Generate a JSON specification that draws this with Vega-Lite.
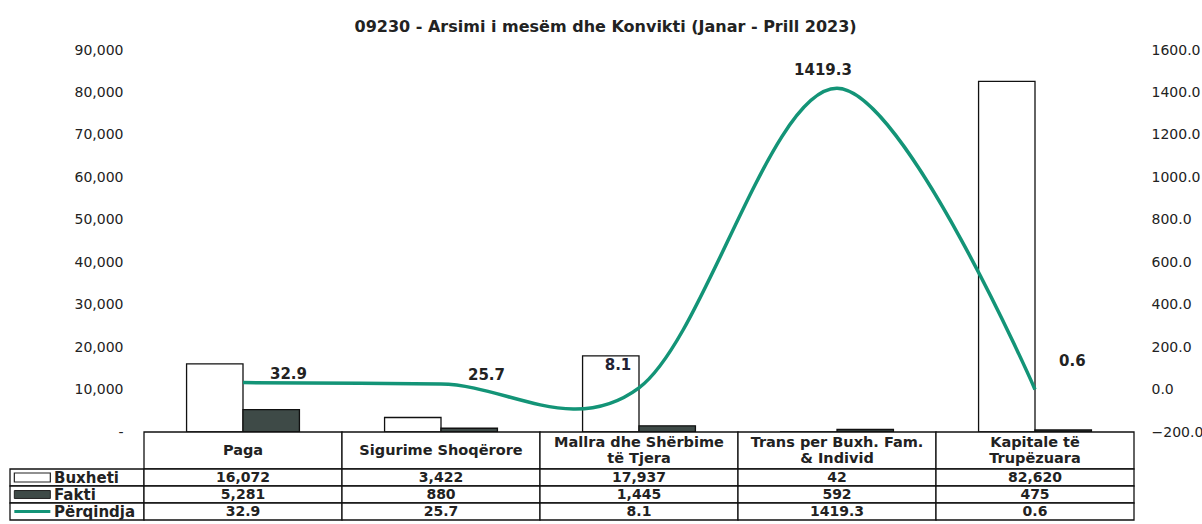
{
  "$schema": "https://vega.github.io/schema/vega-lite/v6.json",
  "background": "white",
  "padding": {"left": 8, "top": 19, "right": 0, "bottom": 0},
  "autosize": {"type": "pad"},
  "title": {"text": "09230  - Arsimi i mesëm dhe Konvikti (Janar - Prill 2023)", "font": "DejaVu Sans", "fontSize": 16, "fontWeight": "bold", "color": "#222", "anchor": "middle", "offset": 8},
  "bounds": "flush",
  "spacing": 0,
  "columns": 2,
  "datasets": {
    "main": [
      {"category": "Paga", "Buxheti": 16072, "Fakti": 5281, "Përqindja": 32.9},
      {"category": "Sigurime Shoqërore", "Buxheti": 3422, "Fakti": 880, "Përqindja": 25.7},
      {"category": "Mallra dhe Shërbime\ntë Tjera", "Buxheti": 17937, "Fakti": 1445, "Përqindja": 8.1},
      {"category": "Trans per Buxh. Fam.\n& Individ", "Buxheti": 42, "Fakti": 592, "Përqindja": 1419.3},
      {"category": "Kapitale të\nTrupëzuara", "Buxheti": 82620, "Fakti": 475, "Përqindja": 0.6}
    ],
    "legendrows": [
      {"series": "Buxheti"},
      {"series": "Fakti"},
      {"series": "Përqindja"}
    ]
  },
  "concat": [
    {"width": 134, "height": 382, "data": {"values": []}, "mark": {"type": "point", "opacity": 0}, "encoding": {}},
    {
      "width": 990,
      "height": 382,
      "data": {"name": "main"},
      "layer": [
        {
          "transform": [{"fold": ["Buxheti", "Fakti"], "as": ["series", "value"]}],
          "mark": {"type": "bar", "stroke": "#111", "strokeWidth": 1.3},
          "encoding": {
            "x": {"field": "category", "type": "nominal", "sort": null, "scale": {"paddingInner": 0.43, "paddingOuter": 0.215}, "axis": null},
            "xOffset": {"field": "series", "type": "nominal", "sort": ["Buxheti", "Fakti"]},
            "y": {"field": "value", "type": "quantitative", "scale": {"domain": [0, 90000], "nice": false},
              "axis": {"values": [0, 10000, 20000, 30000, 40000, 50000, 60000, 70000, 80000, 90000], "labelExpr": "datum.value === 0 ? '-' : format(datum.value, ',')", "title": null, "domain": false, "ticks": false, "grid": false, "labelPadding": 21, "labelFontSize": 14, "labelColor": "#222", "labelFont": "DejaVu Sans"}},
            "fill": {"field": "series", "type": "nominal", "scale": {"domain": ["Buxheti", "Fakti"], "range": ["white", "#3e4a47"]}, "legend": null}
          }
        },
        {
          "layer": [
            {
              "mark": {"type": "line", "interpolate": "cardinal", "color": "#139477", "strokeWidth": 3.5},
              "encoding": {
                "x": {"field": "category", "type": "nominal", "sort": null},
                "y": {"field": "Përqindja", "type": "quantitative", "scale": {"domain": [-200, 1600], "nice": false},
                  "axis": {"orient": "right", "values": [-200, 0, 200, 400, 600, 800, 1000, 1200, 1400, 1600], "format": ".1f", "title": null, "domain": false, "ticks": false, "grid": false, "labelPadding": 17, "labelFontSize": 14, "labelColor": "#222", "labelFont": "DejaVu Sans"}}
              }
            },
            {
              "transform": [{"filter": {"field": "category", "oneOf": ["Paga", "Sigurime Shoqërore"]}}],
              "mark": {"type": "text", "align": "left", "dx": 27, "dy": -9, "fontWeight": "bold", "fontSize": 15, "color": "#222"},
              "encoding": {
                "x": {"field": "category", "type": "nominal", "sort": null},
                "y": {"field": "Përqindja", "type": "quantitative"},
                "text": {"field": "Përqindja", "type": "quantitative", "format": ".1f"}
              }
            },
            {
              "transform": [{"filter": {"field": "category", "oneOf": ["Kapitale të\nTrupëzuara"]}}],
              "mark": {"type": "text", "align": "left", "dx": 24, "dy": -28, "fontWeight": "bold", "fontSize": 15, "color": "#222"},
              "encoding": {
                "x": {"field": "category", "type": "nominal", "sort": null},
                "y": {"field": "Përqindja", "type": "quantitative"},
                "text": {"field": "Përqindja", "type": "quantitative", "format": ".1f"}
              }
            },
            {
              "transform": [{"filter": {"field": "category", "oneOf": ["Mallra dhe Shërbime\ntë Tjera"]}}],
              "mark": {"type": "text", "align": "center", "dx": -21, "dy": -23, "fontWeight": "bold", "fontSize": 15, "color": "#223"},
              "encoding": {
                "x": {"field": "category", "type": "nominal", "sort": null},
                "y": {"field": "Përqindja", "type": "quantitative"},
                "text": {"field": "Përqindja", "type": "quantitative", "format": ".1f"}
              }
            },
            {
              "transform": [{"filter": {"field": "category", "oneOf": ["Trans per Buxh. Fam.\n& Individ"]}}],
              "mark": {"type": "text", "align": "center", "dx": -14, "dy": -18, "fontWeight": "bold", "fontSize": 15, "color": "#222"},
              "encoding": {
                "x": {"field": "category", "type": "nominal", "sort": null},
                "y": {"field": "Përqindja", "type": "quantitative"},
                "text": {"field": "Përqindja", "type": "quantitative", "format": ".1f"}
              }
            }
          ]
        }
      ],
      "resolve": {"scale": {"y": "independent"}}
    },
    {"width": 134, "height": 37, "data": {"values": []}, "mark": {"type": "point", "opacity": 0}, "encoding": {}},
    {
      "width": 990,
      "height": 37,
      "data": {"name": "main"},
      "layer": [
        {
          "mark": {"type": "rect", "fill": "white", "stroke": "#111", "strokeWidth": 1.3},
          "encoding": {"x": {"field": "category", "type": "nominal", "sort": null, "axis": null, "scale": {"paddingInner": 0, "paddingOuter": 0}}}
        },
        {
          "transform": [{"filter": "indexof(datum.category, '\\n') < 0"}],
          "mark": {"type": "text", "fontWeight": "bold", "fontSize": 14.5, "color": "#222"},
          "encoding": {"x": {"field": "category", "type": "nominal", "sort": null}, "text": {"field": "category"}}
        },
        {
          "transform": [{"filter": "indexof(datum.category, '\\n') >= 0"}],
          "mark": {"type": "text", "fontWeight": "bold", "fontSize": 14.5, "lineBreak": "\n", "lineHeight": 16, "dy": -8, "color": "#222"},
          "encoding": {"x": {"field": "category", "type": "nominal", "sort": null}, "text": {"field": "category"}}
        }
      ]
    },
    {
      "width": 134,
      "height": 51,
      "data": {"name": "legendrows"},
      "layer": [
        {
          "mark": {"type": "rect", "fill": "white", "stroke": "#111", "strokeWidth": 1.3},
          "encoding": {"y": {"field": "series", "type": "nominal", "sort": ["Buxheti", "Fakti", "Përqindja"], "axis": null, "scale": {"domain": ["Buxheti", "Fakti", "Përqindja"], "paddingInner": 0, "paddingOuter": 0}}}
        },
        {
          "transform": [{"filter": "datum.series === 'Buxheti'"}],
          "mark": {"type": "point", "shape": "M-1,-0.25H1V0.25H-1Z", "size": 1296, "filled": true, "fill": "white", "stroke": "#222", "strokeWidth": 1.2, "opacity": 1},
          "encoding": {
            "y": {"field": "series", "type": "nominal"},
            "x": {"datum": "sym", "type": "nominal", "scale": {"domain": ["sym", "lbl", "end"], "paddingInner": 0, "paddingOuter": 0}, "axis": null}
          }
        },
        {
          "transform": [{"filter": "datum.series === 'Fakti'"}],
          "mark": {"type": "point", "shape": "M-1,-0.22H1V0.22H-1Z", "size": 1296, "filled": true, "fill": "#3e4a47", "stroke": "#222", "strokeWidth": 1, "opacity": 1},
          "encoding": {
            "y": {"field": "series", "type": "nominal"},
            "x": {"datum": "sym", "type": "nominal"}
          }
        },
        {
          "transform": [{"filter": "datum.series === 'Përqindja'"}],
          "mark": {"type": "point", "shape": "stroke", "size": 1296, "filled": false, "stroke": "#139477", "strokeWidth": 3, "opacity": 1},
          "encoding": {
            "y": {"field": "series", "type": "nominal"},
            "x": {"datum": "sym", "type": "nominal"}
          }
        },
        {
          "mark": {"type": "text", "align": "left", "dx": -23, "fontWeight": "bold", "fontSize": 15, "color": "#222"},
          "encoding": {
            "y": {"field": "series", "type": "nominal"},
            "x": {"datum": "lbl", "type": "nominal"},
            "text": {"field": "series"}
          }
        }
      ]
    },
    {
      "width": 990,
      "height": 51,
      "data": {"name": "main"},
      "layer": [
        {
          "transform": [{"fold": ["Buxheti", "Fakti", "Përqindja"], "as": ["series", "value"]}],
          "mark": {"type": "rect", "fill": "white", "stroke": "#111", "strokeWidth": 1.3},
          "encoding": {
            "x": {"field": "category", "type": "nominal", "sort": null, "axis": null, "scale": {"paddingInner": 0, "paddingOuter": 0}},
            "y": {"field": "series", "type": "nominal", "sort": ["Buxheti", "Fakti", "Përqindja"], "axis": null, "scale": {"domain": ["Buxheti", "Fakti", "Përqindja"], "paddingInner": 0, "paddingOuter": 0}}
          }
        },
        {
          "transform": [{"fold": ["Buxheti", "Fakti"], "as": ["series", "value"]}],
          "mark": {"type": "text", "fontWeight": "bold", "fontSize": 14, "color": "#222"},
          "encoding": {
            "x": {"field": "category", "type": "nominal", "sort": null},
            "y": {"field": "series", "type": "nominal"},
            "text": {"field": "value", "type": "quantitative", "format": ","}
          }
        },
        {
          "mark": {"type": "text", "fontWeight": "bold", "fontSize": 14, "color": "#222"},
          "encoding": {
            "x": {"field": "category", "type": "nominal", "sort": null},
            "y": {"datum": "Përqindja", "type": "nominal"},
            "text": {"field": "Përqindja", "type": "quantitative", "format": ".1f"}
          }
        }
      ]
    }
  ],
  "config": {"view": {"stroke": null}, "font": "DejaVu Sans"}
}
